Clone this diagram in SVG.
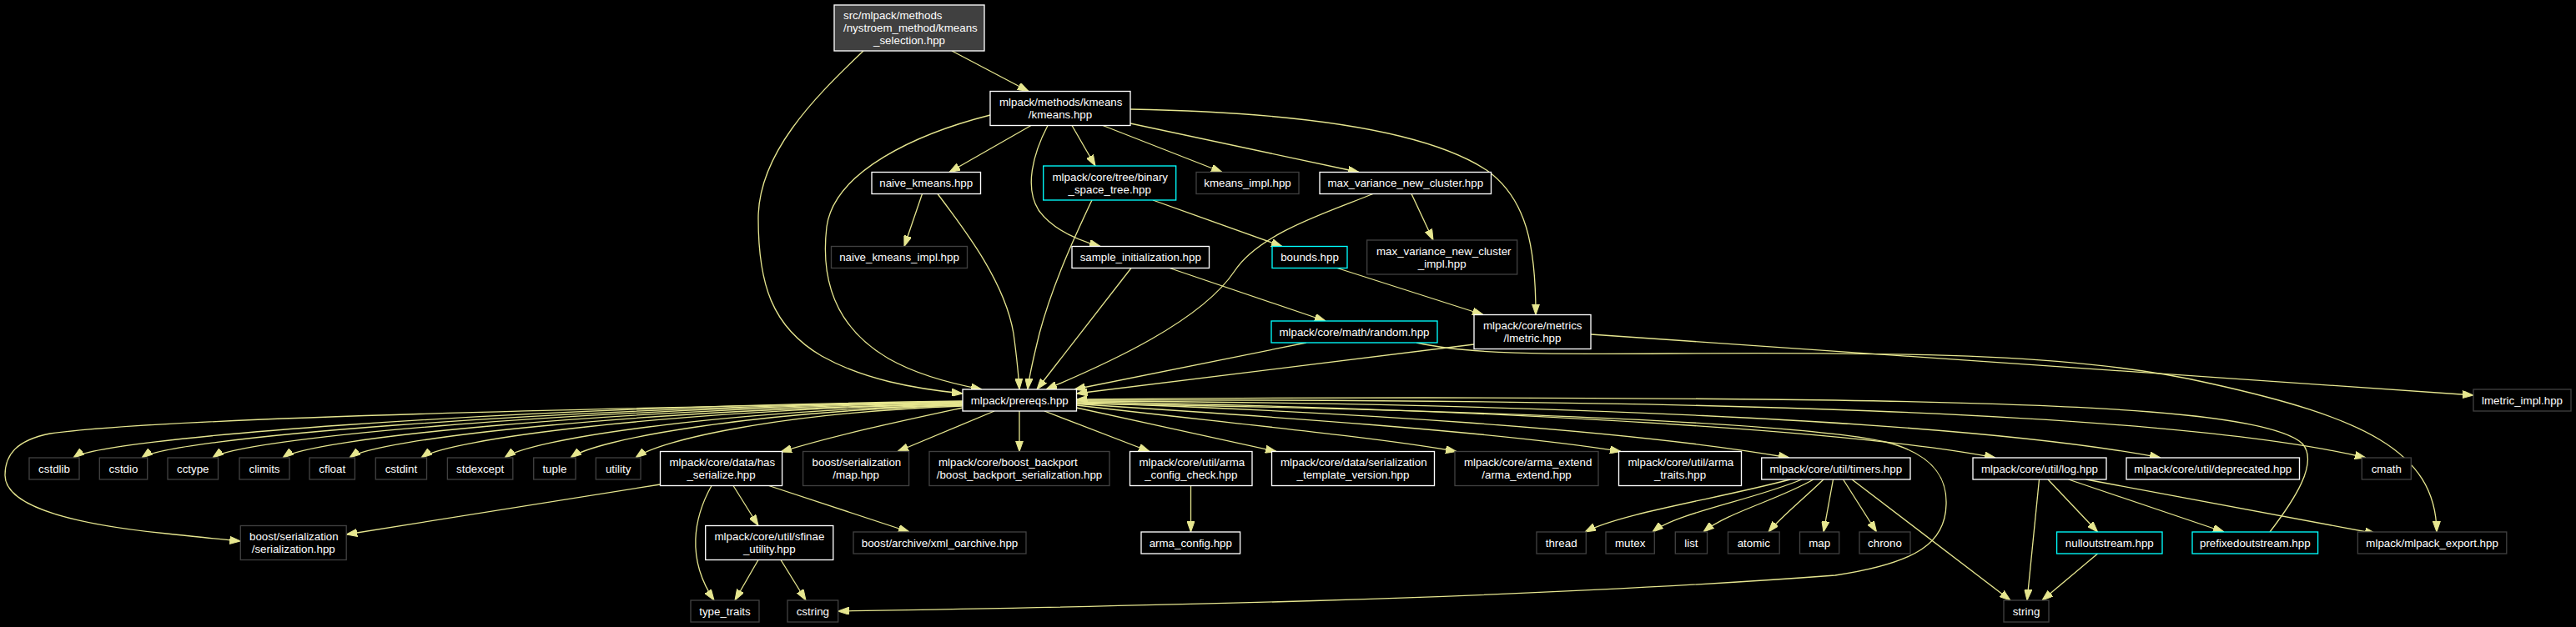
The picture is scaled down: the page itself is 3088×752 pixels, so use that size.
<svg xmlns="http://www.w3.org/2000/svg" width="3088" height="752" viewBox="0 0 3088 752">
<style>
text{font-family:"Liberation Sans",Arial,Helvetica,sans-serif;font-size:13.33px;fill:#fff}
.m{text-anchor:middle}
rect{fill:#000;stroke:#fff;stroke-width:1.33}
.u rect{stroke:#404040}
.t rect{stroke:#0ff}
.c rect{fill:#404040}
#edges path{fill:none;stroke:#e6e68f;stroke-width:1.3;marker-end:url(#a)}
</style>
<defs>
<marker id="a" viewBox="0 0 10 7" refX="10" refY="3.5" markerWidth="13" markerHeight="9.3" orient="auto" markerUnits="userSpaceOnUse"><path d="M0,0 L10,3.5 L0,7 z" fill="#e6e68f" stroke="#e6e68f" stroke-width="0.8"/></marker>
</defs>
<rect x="0" y="0" width="3088" height="752" style="fill:#000;stroke:none"/>
<g id="edges">
<path d="M1141,61 L1233,109.5"/>
<path d="M1035,61 C975,118 909,185 909,262 C909,340 925,392 985,427 C1035,455 1095,466 1154,472"/>
<path d="M1187,138 C1100,160 1000,205 991,272 C983,340 1005,395 1065,430 C1100,450 1140,460 1177,467"/>
<path d="M1236,150.5 L1138,206.5"/>
<path d="M1256,150.5 C1238,185 1228,225 1245,252 C1262,276 1292,288 1319,295.5"/>
<path d="M1285,150.5 L1313,199"/>
<path d="M1322,150.5 L1465,206.5"/>
<path d="M1355,148 L1629,206.5"/>
<path d="M1355,131 C1520,134 1700,150 1782,204 C1830,238 1841,295 1841,377.5"/>
<path d="M1105.5,232.5 L1084,295.5"/>
<path d="M1124,232.5 C1160,280 1205,340 1215,400 C1219,430 1221,450 1222,467"/>
<path d="M1309,240 C1290,280 1262,340 1246,400 C1240,425 1234,448 1232,467"/>
<path d="M1382,240 L1537,295.5"/>
<path d="M1646,232.5 C1590,255 1510,280 1480,325 C1440,385 1330,435 1254,467"/>
<path d="M1692,232.5 L1718,288"/>
<path d="M1356,321.5 L1243,467"/>
<path d="M1402,321.5 L1589,385"/>
<path d="M1603,321.5 L1778,377.5"/>
<path d="M1566,411 L1288,467"/>
<path d="M1767,413 L1290.5,472"/>
<path d="M1907,401 L2965,474"/>
<path d="M1698,411 C1760,425 1850,425 2000,424 C2300,422 2500,425 2650,460 C2830,500 2920,540 2921,638"/>
<path d="M1154,481 C567.7,489 118,527 88,549"/>
<path d="M1154,482 C612.8,490 200,527 170,549"/>
<path d="M1154,482.5 C659.5,490.5 285,527 255,549"/>
<path d="M1154,483 C705.8,491 369,527 339,549"/>
<path d="M1154,484 C749.8,492 449,527 419,549"/>
<path d="M1154,484.5 C797,492.5 535,527 505,549"/>
<path d="M1154,485.5 C852,493.5 635,527 605,549"/>
<path d="M1154,486 C895.5,494 714,527 684,549"/>
<path d="M1154,487 C938.4,495 792,527 762,549"/>
<path d="M1154,489 C1080,505 1000,522 936,542"/>
<path d="M1154,482 C800,488 200,500 60,520 C20,528 6,545 6,570 C6,610 100,630 200,640 C240,644 265,647 288.3,649"/>
<path d="M1192,493 L1076,541.5"/>
<path d="M1222,493 L1222,541.5"/>
<path d="M1252,493 L1378,541.5"/>
<path d="M1290.5,489 L1530,541.5"/>
<path d="M1290.5,486 C1450,505 1650,524 1746,541.5"/>
<path d="M1290.5,484.5 C1500,498 1800,518 1943,541.5"/>
<path d="M1290.5,483 C1600,493 1950,515 2145,549"/>
<path d="M1290.5,482 C1700,488 2200,512 2392,549"/>
<path d="M1290.5,481 C1800,483 2350,503 2590,549"/>
<path d="M1290.5,480 C2000,478 2600,493 2836,549"/>
<path d="M1290.5,484 C1700,490 2150,505 2260,530 C2320,545 2334,575 2333,605 C2332,650 2300,675 2200,690 C1800,720 1300,728 1004.7,733"/>
<path d="M2721,638 C2750,600 2780,555 2760,532 C2720,495 2500,485 2200,480 C1800,475 1500,477 1290.5,479"/>
<path d="M791.5,581 L415.2,641"/>
<path d="M853,582.5 C832,620 822,670 856,720"/>
<path d="M879,582.5 L909,630.5"/>
<path d="M921.6,582.5 L1090,638"/>
<path d="M909,671.5 L881,720"/>
<path d="M936,671.5 L966,720"/>
<path d="M1427.5,582.5 L1427.5,638"/>
<path d="M2146,575 C2060,598 1945,615 1900,638"/>
<path d="M2160,575 C2100,600 2010,615 1981,638"/>
<path d="M2174,575 C2130,600 2070,615 2042,638"/>
<path d="M2186,575 C2160,600 2135,620 2120,638"/>
<path d="M2197.5,575 L2186,638"/>
<path d="M2209.5,575 L2249.5,638"/>
<path d="M2220,575 L2410,720"/>
<path d="M2444.5,575 L2430,720"/>
<path d="M2455,575 L2514.6,638"/>
<path d="M2479.6,575 L2666,638"/>
<path d="M2500.6,575 L2848,640"/>
<path d="M2514.6,664 L2448,720"/>
</g>
<g id="n_sel" class="c"><rect x="1000" y="6" width="180" height="55"/><text x="1011" y="23.3">src/mlpack/methods</text><text x="1011" y="38.3">/nystroem_method/kmeans</text><text class="m" x="1090" y="53.3">_selection.hpp</text></g>
<g id="n_kmeans"><rect x="1187" y="109.5" width="168" height="41"/><text x="1198" y="127">mlpack/methods/kmeans</text><text class="m" x="1271" y="142">/kmeans.hpp</text></g>
<g id="n_naive"><rect x="1045" y="206.5" width="130.5" height="26"/><text class="m" x="1110.25" y="224.3">naive_kmeans.hpp</text></g>
<g id="n_bst" class="t"><rect x="1250.7" y="199" width="159" height="41"/><text x="1261.5" y="216.5">mlpack/core/tree/binary</text><text class="m" x="1330.2" y="231.5">_space_tree.hpp</text></g>
<g id="n_kimpl" class="u"><rect x="1434" y="206.5" width="123" height="26"/><text class="m" x="1495.5" y="224.3">kmeans_impl.hpp</text></g>
<g id="n_maxvar"><rect x="1582" y="206.5" width="205.5" height="26"/><text class="m" x="1684.75" y="224.3">max_variance_new_cluster.hpp</text></g>
<g id="n_nki" class="u"><rect x="996.5" y="295.5" width="163" height="26"/><text class="m" x="1078" y="313.3">naive_kmeans_impl.hpp</text></g>
<g id="n_sample"><rect x="1285" y="295.5" width="164.5" height="26"/><text class="m" x="1367.25" y="313.3">sample_initialization.hpp</text></g>
<g id="n_bounds" class="t"><rect x="1525" y="295.5" width="90" height="26"/><text class="m" x="1570" y="313.3">bounds.hpp</text></g>
<g id="n_mvimpl" class="u"><rect x="1638.7" y="288" width="180" height="41"/><text x="1650" y="305.5">max_variance_new_cluster</text><text class="m" x="1728.7" y="320.5">_impl.hpp</text></g>
<g id="n_random" class="t"><rect x="1524" y="385" width="199" height="26"/><text class="m" x="1623.5" y="402.8">mlpack/core/math/random.hpp</text></g>
<g id="n_lmetric"><rect x="1767" y="377.5" width="140" height="41"/><text x="1778" y="395">mlpack/core/metrics</text><text class="m" x="1837" y="410">/lmetric.hpp</text></g>
<g id="n_prereqs"><rect x="1154" y="467" width="136.5" height="26"/><text class="m" x="1222.25" y="484.8">mlpack/prereqs.hpp</text></g>
<g id="n_lmimpl" class="u"><rect x="2965" y="467" width="117" height="26"/><text class="m" x="3023.5" y="484.8">lmetric_impl.hpp</text></g>
<g id="n_cstdlib" class="u"><rect x="35" y="549" width="60" height="26"/><text class="m" x="65" y="566.8">cstdlib</text></g>
<g id="n_cstdio" class="u"><rect x="119.3" y="549" width="57.4" height="26"/><text class="m" x="148" y="566.8">cstdio</text></g>
<g id="n_cctype" class="u"><rect x="201" y="549" width="60.5" height="26"/><text class="m" x="231.25" y="566.8">cctype</text></g>
<g id="n_climits" class="u"><rect x="287" y="549" width="60" height="26"/><text class="m" x="317" y="566.8">climits</text></g>
<g id="n_cfloat" class="u"><rect x="371" y="549" width="54.4" height="26"/><text class="m" x="398.2" y="566.8">cfloat</text></g>
<g id="n_cstdint" class="u"><rect x="450.3" y="549" width="61.2" height="26"/><text class="m" x="480.9" y="566.8">cstdint</text></g>
<g id="n_stdexcept" class="u"><rect x="536.4" y="549" width="78.4" height="26"/><text class="m" x="575.6" y="566.8">stdexcept</text></g>
<g id="n_tuple" class="u"><rect x="639.7" y="549" width="50.3" height="26"/><text class="m" x="664.85" y="566.8">tuple</text></g>
<g id="n_utility" class="u"><rect x="714.3" y="549" width="53.7" height="26"/><text class="m" x="741.15" y="566.8">utility</text></g>
<g id="n_hasser"><rect x="791.5" y="541.5" width="146.1" height="41"/><text x="802.5" y="559">mlpack/core/data/has</text><text class="m" x="864.55" y="574">_serialize.hpp</text></g>
<g id="n_map_hpp" class="u"><rect x="962.6" y="541.5" width="127" height="41"/><text x="973.6" y="559">boost/serialization</text><text class="m" x="1026.1" y="574">/map.hpp</text></g>
<g id="n_backport" class="u"><rect x="1114" y="541.5" width="216" height="41"/><text x="1125" y="559">mlpack/core/boost_backport</text><text class="m" x="1222" y="574">/boost_backport_serialization.hpp</text></g>
<g id="n_acc"><rect x="1354.5" y="541.5" width="146.5" height="41"/><text x="1365.5" y="559">mlpack/core/util/arma</text><text class="m" x="1427.75" y="574">_config_check.hpp</text></g>
<g id="n_stv"><rect x="1524.5" y="541.5" width="195" height="41"/><text x="1535" y="559">mlpack/core/data/serialization</text><text class="m" x="1622" y="574">_template_version.hpp</text></g>
<g id="n_aext" class="u"><rect x="1744" y="541.5" width="172" height="41"/><text x="1755" y="559">mlpack/core/arma_extend</text><text class="m" x="1830" y="574">/arma_extend.hpp</text></g>
<g id="n_atraits"><rect x="1940.5" y="541.5" width="147" height="41"/><text x="1951.5" y="559">mlpack/core/util/arma</text><text class="m" x="2014" y="574">_traits.hpp</text></g>
<g id="n_timers"><rect x="2111.7" y="549" width="178.3" height="26"/><text class="m" x="2200.85" y="566.8">mlpack/core/util/timers.hpp</text></g>
<g id="n_log"><rect x="2365" y="549" width="160" height="26"/><text class="m" x="2445" y="566.8">mlpack/core/util/log.hpp</text></g>
<g id="n_depr"><rect x="2549" y="549" width="207.5" height="26"/><text class="m" x="2652.75" y="566.8">mlpack/core/util/deprecated.hpp</text></g>
<g id="n_cmath" class="u"><rect x="2831.3" y="549" width="59" height="26"/><text class="m" x="2860.8" y="566.8">cmath</text></g>
<g id="n_ser" class="u"><rect x="288.3" y="630.5" width="126.9" height="41"/><text x="299" y="648">boost/serialization</text><text class="m" x="351.75" y="663">/serialization.hpp</text></g>
<g id="n_sfinae"><rect x="845.7" y="630.5" width="153.1" height="41"/><text x="856.5" y="648">mlpack/core/util/sfinae</text><text class="m" x="922.25" y="663">_utility.hpp</text></g>
<g id="n_xml" class="u"><rect x="1023" y="638" width="207" height="26"/><text class="m" x="1126.5" y="655.8">boost/archive/xml_oarchive.hpp</text></g>
<g id="n_ac"><rect x="1368" y="638" width="118.6" height="26"/><text class="m" x="1427.3" y="655.8">arma_config.hpp</text></g>
<g id="n_thread" class="u"><rect x="1842" y="638" width="59.3" height="26"/><text class="m" x="1871.65" y="655.8">thread</text></g>
<g id="n_mutex" class="u"><rect x="1925" y="638" width="58.3" height="26"/><text class="m" x="1954.15" y="655.8">mutex</text></g>
<g id="n_list" class="u"><rect x="2008.3" y="638" width="38.2" height="26"/><text class="m" x="2027.4" y="655.8">list</text></g>
<g id="n_atomic" class="u"><rect x="2071.5" y="638" width="61.7" height="26"/><text class="m" x="2102.35" y="655.8">atomic</text></g>
<g id="n_map" class="u"><rect x="2157.5" y="638" width="47.2" height="26"/><text class="m" x="2181.1" y="655.8">map</text></g>
<g id="n_chrono" class="u"><rect x="2229" y="638" width="61" height="26"/><text class="m" x="2259.5" y="655.8">chrono</text></g>
<g id="n_null" class="t"><rect x="2465.6" y="638" width="126.4" height="26"/><text class="m" x="2528.8" y="655.8">nulloutstream.hpp</text></g>
<g id="n_prefixed" class="t"><rect x="2628" y="638" width="150.6" height="26"/><text class="m" x="2703.3" y="655.8">prefixedoutstream.hpp</text></g>
<g id="n_export" class="u"><rect x="2826.4" y="638" width="178.4" height="26"/><text class="m" x="2915.6" y="655.8">mlpack/mlpack_export.hpp</text></g>
<g id="n_tt" class="u"><rect x="828" y="720" width="82" height="26"/><text class="m" x="869" y="737.8">type_traits</text></g>
<g id="n_cstring" class="u"><rect x="944" y="720" width="60.7" height="26"/><text class="m" x="974.35" y="737.8">cstring</text></g>
<g id="n_string" class="u"><rect x="2402" y="720" width="54" height="26"/><text class="m" x="2429" y="737.8">string</text></g>
</svg>
